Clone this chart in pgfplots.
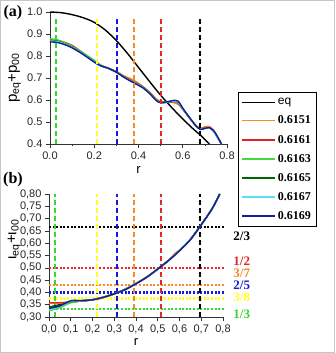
\documentclass[border=0pt]{standalone}
\usepackage{pgfplots}
\pgfplotsset{compat=1.18}
\usepackage{fontspec}
\setmainfont{Liberation Sans}
\newfontfamily\serifb{Liberation Serif}
\definecolor{cOr}{rgb}{0.95,0.55,0.15}
\definecolor{cRe}{rgb}{0.90,0.12,0.12}
\definecolor{cGr}{rgb}{0.25,0.85,0.25}
\definecolor{cDg}{rgb}{0.0,0.40,0.0}
\definecolor{cCy}{rgb}{0.35,0.88,0.95}
\definecolor{cNv}{rgb}{0.10,0.10,0.60}
\definecolor{dGr}{rgb}{0.20,0.85,0.20}
\definecolor{dYe}{rgb}{1.00,1.00,0.15}
\definecolor{dBl}{rgb}{0.10,0.10,0.85}
\definecolor{dOr}{rgb}{0.95,0.55,0.15}
\definecolor{dRe}{rgb}{0.90,0.15,0.15}
\pgfplotsset{
  myax/.style={scale only axis, clip=false,
    axis x line*=bottom, axis y line*=left,
    axis line style={-, black!80, line width=0.8pt},
    every outer x axis line/.append style={-}, every outer y axis line/.append style={-},
    tick style={black!80, line width=0.6pt}, tick align=outside,
    major tick length=4pt, minor tick length=2pt,
    ticklabel style={font=\fontsize{11}{11}\selectfont, text=black!85},
    /pgf/number format/assume math mode=true,
    xmin=0, xmax=0.8,
    label style={font=\fontsize{13}{13}\selectfont},
  },
  crv/.style={line width=1.4pt, smooth},
  vdash/.style={line width=2pt, dash pattern=on 5pt off 3pt, forget plot},
  hdot/.style={line width=2.2pt, dash pattern=on 2pt off 1.6pt, forget plot},
}
\tikzset{fr/.style={anchor=west, font=\serifb\bfseries\fontsize{13}{13}\selectfont}}
\begin{document}
\begin{tikzpicture}[x=1pt,y=1pt]
\path[use as bounding box] (0,0) rectangle (335,353);
\draw[gray!45, line width=1pt] (0.5,0.5) rectangle (334.5,352.5);
\node[font=\serifb\bfseries\fontsize{16}{16}\selectfont] at (13,340) {(a)};
\node[font=\serifb\bfseries\fontsize{16}{16}\selectfont] at (13,173) {(b)};

% ---------------- panel (a)
\begin{axis}[myax, at={(50pt,209pt)}, anchor=south west, width=177pt, height=132pt,
  ymin=0.4, ymax=1.0,
  xtick={0,0.2,0.4,0.6,0.8}, minor x tick num=1,
  ytick={0.4,0.5,0.6,0.7,0.8,0.9,1.0},
  xticklabel style={/pgf/number format/.cd, fixed, fixed zerofill, precision=1},
  yticklabel style={/pgf/number format/.cd, fixed, fixed zerofill, precision=1},
  xlabel={r}, xlabel style={at={(axis description cs:0.5,0)}, anchor=center, yshift=-26pt},
  ylabel={p\textsubscript{eq}+p\textsubscript{00}},
  ylabel style={at={(axis description cs:-0.2,0.5)}, anchor=center, font=\fontsize{15}{15}\selectfont},
  legend style={at={(axis description cs:1.062,0.394)}, anchor=north west,
    draw=black, line width=0.8pt, fill=white,
    font=\serifb\bfseries\fontsize{12}{12}\selectfont,
    row sep=5.6pt, inner xsep=3pt, inner ysep=4pt},
  legend cell align=left,
  legend image code/.code={\draw[#1, line width=1.6pt] (0pt,0pt) -- (33pt,0pt);},
]
\addplot[crv, black] coordinates {(0,1.0) (0.05,0.997) (0.1,0.988) (0.15,0.974) (0.2,0.953) (0.25,0.918) (0.3,0.870) (0.35,0.812) (0.4,0.748) (0.45,0.684) (0.5,0.622) (0.55,0.566) (0.6,0.514) (0.65,0.466) (0.68,0.440) (0.72,0.400)};
\addlegendentry{{\normalfont\mdseries\fontsize{12}{12}\selectfont eq}}
\addplot[crv, cOr] coordinates {(0,0.872) (0.03,0.870) (0.06,0.862) (0.1,0.845) (0.15,0.812) (0.2,0.776) (0.23,0.757) (0.26,0.746) (0.3,0.730) (0.33,0.712) (0.36,0.699) (0.39,0.683) (0.42,0.662) (0.45,0.637) (0.48,0.606) (0.5,0.594) (0.53,0.590) (0.56,0.588) (0.58,0.580) (0.6,0.558) (0.63,0.520) (0.66,0.484) (0.68,0.472) (0.70,0.478) (0.72,0.480) (0.74,0.462) (0.76,0.428) (0.775,0.400)};
\addlegendentry{0.6151}
\addplot[crv, cRe] coordinates {(0,0.876) (0.03,0.873) (0.06,0.864) (0.1,0.848) (0.15,0.813) (0.2,0.776) (0.23,0.756) (0.26,0.745) (0.3,0.727) (0.33,0.708) (0.36,0.692) (0.39,0.677) (0.42,0.659) (0.45,0.633) (0.48,0.601) (0.5,0.589) (0.53,0.590) (0.56,0.593) (0.58,0.586) (0.6,0.559) (0.63,0.520) (0.66,0.483) (0.68,0.469) (0.70,0.473) (0.72,0.475) (0.74,0.459) (0.76,0.426) (0.775,0.400)};
\addlegendentry{0.6161}
\addplot[crv, cGr] coordinates {(0,0.878) (0.03,0.874) (0.06,0.863) (0.1,0.844) (0.15,0.814) (0.2,0.780) (0.23,0.759) (0.26,0.746) (0.3,0.727) (0.33,0.707) (0.36,0.690) (0.39,0.675) (0.42,0.658) (0.45,0.632) (0.48,0.600) (0.5,0.588) (0.53,0.590) (0.56,0.594) (0.58,0.588) (0.6,0.560) (0.63,0.520) (0.66,0.482) (0.68,0.468) (0.70,0.472) (0.72,0.474) (0.74,0.458) (0.76,0.425) (0.775,0.400)};
\addlegendentry{0.6163}
\addplot[crv, cDg] coordinates {(0,0.870) (0.03,0.868) (0.06,0.858) (0.1,0.840) (0.15,0.810) (0.2,0.775) (0.23,0.755) (0.26,0.745) (0.3,0.728) (0.33,0.708) (0.36,0.690) (0.39,0.675) (0.42,0.658) (0.45,0.632) (0.48,0.600) (0.5,0.588) (0.53,0.590) (0.56,0.594) (0.58,0.588) (0.6,0.560) (0.63,0.520) (0.66,0.482) (0.68,0.468) (0.70,0.472) (0.72,0.474) (0.74,0.458) (0.76,0.425) (0.775,0.400)};
\addlegendentry{0.6165}
\addplot[crv, cCy] coordinates {(0,0.868) (0.03,0.866) (0.06,0.857) (0.1,0.839) (0.15,0.809) (0.2,0.774) (0.23,0.755) (0.26,0.745) (0.3,0.727) (0.33,0.707) (0.36,0.689) (0.39,0.674) (0.42,0.657) (0.45,0.631) (0.48,0.599) (0.5,0.588) (0.53,0.591) (0.56,0.595) (0.58,0.590) (0.6,0.561) (0.63,0.520) (0.66,0.482) (0.68,0.467) (0.70,0.471) (0.72,0.473) (0.74,0.457) (0.76,0.424) (0.775,0.400)};
\addlegendentry{0.6167}
\addplot[crv, cNv] coordinates {(0,0.864) (0.03,0.862) (0.06,0.854) (0.1,0.837) (0.15,0.807) (0.2,0.772) (0.23,0.755) (0.26,0.746) (0.3,0.726) (0.33,0.706) (0.36,0.688) (0.39,0.672) (0.42,0.655) (0.45,0.630) (0.48,0.598) (0.5,0.588) (0.53,0.592) (0.56,0.598) (0.58,0.594) (0.6,0.563) (0.63,0.521) (0.66,0.482) (0.68,0.466) (0.70,0.471) (0.72,0.474) (0.74,0.460) (0.76,0.428) (0.775,0.400)};
\addlegendentry{0.6169}
\addplot[vdash, dGr] coordinates {(0.026,0.4) (0.026,0.975)};
\addplot[vdash, dYe] coordinates {(0.211,0.4) (0.211,0.975)};
\addplot[vdash, dBl] coordinates {(0.301,0.4) (0.301,0.975)};
\addplot[vdash, dOr] coordinates {(0.380,0.4) (0.380,0.975)};
\addplot[vdash, dRe] coordinates {(0.500,0.4) (0.500,0.975)};
\addplot[vdash, black] coordinates {(0.678,0.4) (0.678,0.975)};
\end{axis}

% ---------------- panel (b)
\begin{axis}[myax, at={(49pt,36pt)}, anchor=south west, width=174pt, height=123pt,
  ymin=0.3, ymax=0.8,
  xtick={0,0.1,...,0.8},
  ytick={0.30,0.35,0.40,0.45,0.50,0.55,0.60,0.65,0.70,0.75,0.80},
  xticklabel style={/pgf/number format/.cd, fixed, fixed zerofill, precision=1, use comma},
  yticklabel style={/pgf/number format/.cd, fixed, fixed zerofill, precision=2, use comma},
  xlabel={r}, xlabel style={at={(axis description cs:0.5,0)}, anchor=center, yshift=-25pt},
  ylabel={ι\textsubscript{eq}+ι\textsubscript{00}},
  ylabel style={at={(axis description cs:-0.2,0.63)}, anchor=center, font=\fontsize{15}{15}\selectfont},
]
\addplot[hdot, black] coordinates {(0,0.6667) (0.805,0.6667)};
\addplot[hdot, dRe] coordinates {(0,0.5) (0.805,0.5)};
\addplot[hdot, dOr] coordinates {(0,0.4286) (0.805,0.4286)};
\addplot[hdot, dBl] coordinates {(0,0.4) (0.805,0.4)};
\addplot[hdot, dYe] coordinates {(0,0.375) (0.805,0.375)};
\addplot[hdot, dGr] coordinates {(0,0.3333) (0.805,0.3333)};
\addplot[vdash, dGr] coordinates {(0.028,0.3) (0.028,0.8)};
\addplot[vdash, dYe] coordinates {(0.219,0.3) (0.219,0.8)};
\addplot[vdash, dBl] coordinates {(0.311,0.3) (0.311,0.8)};
\addplot[vdash, dOr] coordinates {(0.392,0.3) (0.392,0.8)};
\addplot[vdash, dRe] coordinates {(0.514,0.3) (0.514,0.8)};
\addplot[vdash, black] coordinates {(0.694,0.3) (0.694,0.8)};
\addplot[crv, black] coordinates {(0,0.340) (0.05,0.350) (0.1,0.360) (0.15,0.365) (0.2,0.370) (0.25,0.381) (0.3,0.395) (0.35,0.413) (0.4,0.436) (0.45,0.463) (0.5,0.495) (0.55,0.531) (0.6,0.571) (0.65,0.616) (0.7,0.676) (0.75,0.741) (0.785,0.800)};
\addplot[crv, cOr] coordinates {(0,0.355) (0.05,0.356) (0.1,0.362) (0.15,0.366) (0.2,0.370) (0.25,0.380) (0.3,0.394) (0.35,0.412) (0.4,0.437) (0.45,0.463) (0.5,0.495) (0.55,0.530) (0.58,0.560) (0.6,0.572) (0.65,0.615) (0.7,0.675) (0.75,0.740) (0.785,0.800)};
\addplot[crv, cRe] coordinates {(0,0.358) (0.05,0.358) (0.1,0.361) (0.15,0.365) (0.2,0.370) (0.25,0.380) (0.3,0.394) (0.35,0.412) (0.4,0.436) (0.45,0.462) (0.5,0.495) (0.55,0.530) (0.6,0.570) (0.65,0.615) (0.7,0.675) (0.75,0.740) (0.785,0.800)};
\addplot[crv, cGr] coordinates {(0,0.325) (0.05,0.338) (0.1,0.358) (0.15,0.366) (0.2,0.370) (0.25,0.380) (0.3,0.394) (0.35,0.412) (0.4,0.436) (0.45,0.462) (0.5,0.495) (0.55,0.530) (0.6,0.570) (0.65,0.615) (0.7,0.675) (0.75,0.740) (0.785,0.800)};
\addplot[crv, cDg] coordinates {(0,0.340) (0.05,0.348) (0.1,0.362) (0.15,0.366) (0.2,0.370) (0.25,0.380) (0.3,0.394) (0.35,0.412) (0.4,0.436) (0.45,0.462) (0.5,0.495) (0.55,0.530) (0.6,0.570) (0.65,0.615) (0.7,0.675) (0.75,0.740) (0.785,0.800)};
\addplot[crv, cCy] coordinates {(0,0.330) (0.05,0.342) (0.1,0.364) (0.15,0.366) (0.2,0.370) (0.25,0.380) (0.3,0.394) (0.35,0.412) (0.4,0.436) (0.45,0.462) (0.5,0.495) (0.55,0.530) (0.6,0.570) (0.65,0.615) (0.7,0.675) (0.75,0.740) (0.785,0.800)};
\addplot[crv, cNv] coordinates {(0,0.335) (0.05,0.345) (0.1,0.366) (0.15,0.367) (0.2,0.370) (0.25,0.380) (0.3,0.394) (0.35,0.411) (0.4,0.435) (0.45,0.462) (0.5,0.495) (0.55,0.530) (0.6,0.569) (0.65,0.614) (0.7,0.675) (0.75,0.740) (0.785,0.800)};
\node[fr, text=black] at (axis cs:0.832,0.627) {2/3};
\node[fr, text=dRe] at (axis cs:0.832,0.526) {1/2};
\node[fr, text=dOr] at (axis cs:0.832,0.477) {3/7};
\node[fr, text=dBl] at (axis cs:0.832,0.428) {2/5};
\node[fr, text=dYe] at (axis cs:0.832,0.380) {3/8};
\node[fr, text=dGr] at (axis cs:0.832,0.312) {1/3};
\end{axis}
\end{tikzpicture}
\end{document}
